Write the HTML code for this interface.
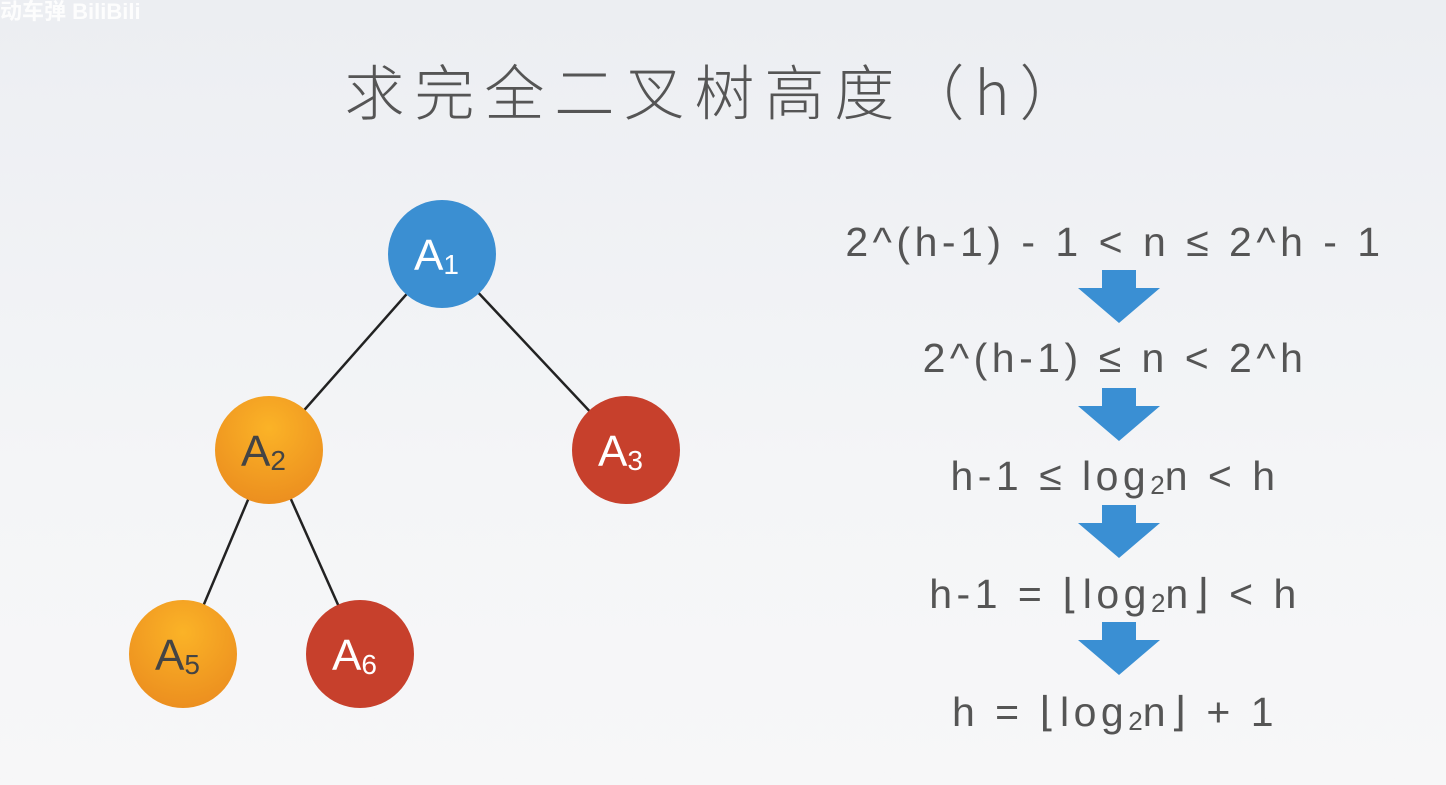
<!DOCTYPE html>
<html><head><meta charset="utf-8"><style>
html,body{margin:0;padding:0}
body{width:1446px;height:785px;overflow:hidden;background:linear-gradient(180deg,#eceef2 0%,#f4f5f7 60%,#f7f7f8 100%);font-family:"Liberation Sans","Noto Sans CJK SC",sans-serif;position:relative}
.t{position:absolute;left:-6px;width:1446px;top:46px;text-align:center;font-size:60px;color:#555;font-family:"Noto Sans CJK SC","Liberation Sans",sans-serif;font-weight:300;letter-spacing:10px}
.f{position:absolute;width:800px;left:715px;text-align:center;font-size:41px;color:#555;line-height:48px;letter-spacing:4.5px}
sub{font-size:26px;vertical-align:-4px;letter-spacing:0}
</style></head><body>
<div style="position:absolute;left:0;top:-6px;color:#fff;font-size:22px;font-weight:bold;opacity:.9">动车弹 BiliBili</div>
<div class="t">求完全二叉树高度（h）</div>
<svg width="1446" height="785" style="position:absolute;left:0;top:0">
<defs>
<radialGradient id="o" cx="50%" cy="30%" r="70%"><stop offset="0" stop-color="#fbb327"/><stop offset="1" stop-color="#ec8f1f"/></radialGradient>
</defs>
<g stroke="#222" stroke-width="2.5">
<line x1="442" y1="254" x2="269" y2="450"/><line x1="442" y1="254" x2="626" y2="450"/>
<line x1="269" y1="450" x2="183" y2="654"/><line x1="269" y1="450" x2="360" y2="654"/>
</g>
<circle cx="442" cy="254" r="54" fill="#3b8fd2"/>
<circle cx="269" cy="450" r="54" fill="url(#o)"/>
<circle cx="626" cy="450" r="54" fill="#c7402c"/>
<circle cx="183" cy="654" r="54" fill="url(#o)"/>
<circle cx="360" cy="654" r="54" fill="#c7402c"/>
<g font-family="Liberation Sans" font-size="44">
<text x="414" y="270" fill="#fff">A<tspan font-size="28" dy="4">1</tspan></text>
<text x="241" y="466" fill="#444">A<tspan font-size="28" dy="4">2</tspan></text>
<text x="598" y="466" fill="#fff">A<tspan font-size="28" dy="4">3</tspan></text>
<text x="155" y="670" fill="#444">A<tspan font-size="28" dy="4">5</tspan></text>
<text x="332" y="670" fill="#fff">A<tspan font-size="28" dy="4">6</tspan></text>
</g>
<g fill="#3a8fd3">
<polygon points="1102,270 1136,270 1136,288 1160,288 1119,323 1078,288 1102,288"/>
<polygon points="1102,388 1136,388 1136,406 1160,406 1119,441 1078,406 1102,406"/>
<polygon points="1102,505 1136,505 1136,523 1160,523 1119,558 1078,523 1102,523"/>
<polygon points="1102,622 1136,622 1136,640 1160,640 1119,675 1078,640 1102,640"/>
</g>
</svg>
<div class="f" style="top:218px">2^(h-1) - 1 &lt; n ≤ 2^h - 1</div>
<div class="f" style="top:334px">2^(h-1) ≤ n &lt; 2^h</div>
<div class="f" style="top:452px">h-1 ≤ log<sub>2</sub>n &lt; h</div>
<div class="f" style="top:570px">h-1 = ⌊log<sub>2</sub>n⌋ &lt; h</div>
<div class="f" style="top:688px">h = ⌊log<sub>2</sub>n⌋ + 1</div>
</body></html>
